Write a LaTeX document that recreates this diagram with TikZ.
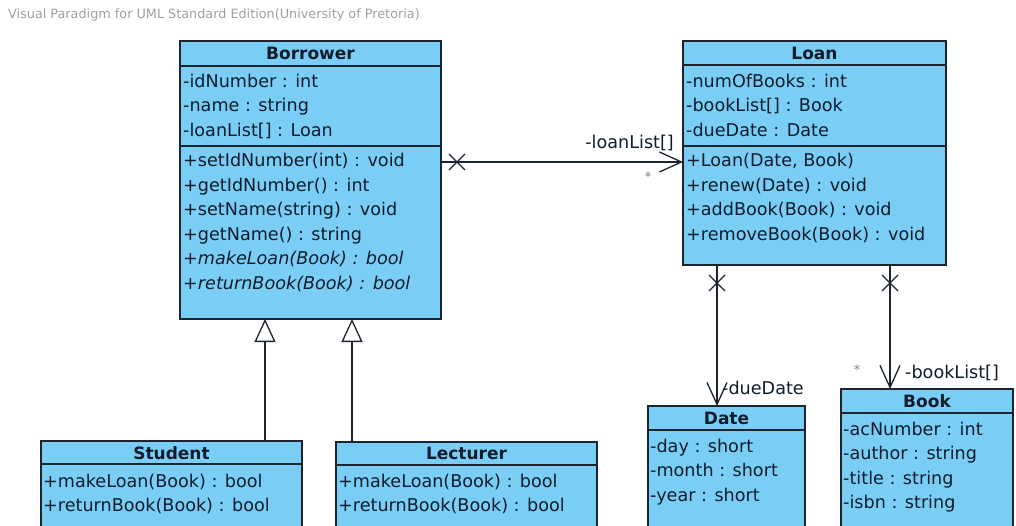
\documentclass[tikz,border=0pt]{standalone}
\usepackage{fontspec}
\setmainfont{DejaVu Sans}
\usetikzlibrary{arrows.meta}
\definecolor{vpfill}{RGB}{122,206,245}
\definecolor{vpline}{RGB}{28,36,48}
\definecolor{vptext}{RGB}{14,28,44}

\begin{document}
\begin{tikzpicture}[x=1pt,y=-1pt,
	classbox/.style={draw=vpline,fill=vpfill,line width=1.3pt,anchor=north west,inner sep=0pt,outer sep=0pt},
	classname/.style={anchor=base,inner sep=0pt,text=vptext,font=\fontsize{17}{20}\selectfont\bfseries},
	member/.style={anchor=base west,inner sep=0pt,text=vptext,font=\fontsize{17.6}{20}\selectfont},
	abstract/.style={member,font=\fontsize{17.6}{20}\selectfont\itshape},
	rolelabel/.style={inner sep=0pt,text=vptext,font=\fontsize{17.6}{20}\selectfont},
	mult/.style={inner sep=0pt,text=gray,font=\fontsize{13}{15}\selectfont},
	sepline/.style={draw=vpline,line width=1.3pt},
	assoc/.style={draw=vpline,line width=1.3pt},
	navarrow/.style={assoc,-{Straight Barb[length=22pt,width=20pt]}},
	inherit/.style={assoc,-{Triangle[open,length=23pt,width=21pt]}}]
\clip (0,0) rectangle (1016,525);

\node[anchor=base west,inner sep=0pt,text=gray!75,font=\fontsize{12.8}{15}\selectfont] (vpnote) at (8,18) {Visual Paradigm for UML Standard Edition(University of Pretoria)};

\node[classbox,minimum width=261pt,minimum height=278pt] (borrower) at (180,41) {};
\node[classbox,minimum width=263pt,minimum height=224pt] (loan) at (683,41) {};
\node[classbox,minimum width=157pt,minimum height=129pt] (date) at (648,406) {};
\node[classbox,minimum width=172pt,minimum height=146pt] (book) at (841,389) {};
\node[classbox,minimum width=261pt,minimum height=94pt] (student) at (41,441) {};
\node[classbox,minimum width=261pt,minimum height=93pt] (lecturer) at (336,442) {};

\draw[sepline] (borrower.west |- 0,66) -- (borrower.east |- 0,66);
\draw[sepline] (borrower.west |- 0,146) -- (borrower.east |- 0,146);
\draw[sepline] (loan.west |- 0,65) -- (loan.east |- 0,65);
\draw[sepline] (loan.west |- 0,146) -- (loan.east |- 0,146);
\draw[sepline] (date.west |- 0,430) -- (date.east |- 0,430);
\draw[sepline] (book.west |- 0,413) -- (book.east |- 0,413);
\draw[sepline] (student.west |- 0,464) -- (student.east |- 0,464);
\draw[sepline] (lecturer.west |- 0,465) -- (lecturer.east |- 0,465);

\node[classname] (borrowername) at (310.5,59.5) {Borrower};
\node[member] (b1) at (183,87) {-idNumber : int};
\node[member] (b2) at (183,111.5) {-name : string};
\node[member] (b3) at (183,136) {-loanList[] : Loan};
\node[member] (b4) at (183,166.5) {+setIdNumber(int) : void};
\node[member] (b5) at (183,191) {+getIdNumber() : int};
\node[member] (b6) at (183,215.5) {+setName(string) : void};
\node[member] (b7) at (183,240) {+getName() : string};
\node[abstract] (b8) at (183,264.5) {+makeLoan(Book) : bool};
\node[abstract] (b9) at (183,289) {+returnBook(Book) : bool};

\node[classname] (loanname) at (814.5,59.5) {Loan};
\node[member] (l1) at (686,87) {-numOfBooks : int};
\node[member] (l2) at (686,111.5) {-bookList[] : Book};
\node[member] (l3) at (686,136) {-dueDate : Date};
\node[member] (l4) at (686,166.5) {+Loan(Date, Book)};
\node[member] (l5) at (686,191) {+renew(Date) : void};
\node[member] (l6) at (686,215.5) {+addBook(Book) : void};
\node[member] (l7) at (686,240) {+removeBook(Book) : void};

\node[classname] (datename) at (726.5,424) {Date};
\node[member] (d1) at (650,452) {-day : short};
\node[member] (d2) at (650,476.5) {-month : short};
\node[member] (d3) at (650,501) {-year : short};

\node[classname] (bookname) at (927,407) {Book};
\node[member] (k1) at (843,435) {-acNumber : int};
\node[member] (k2) at (843,459.5) {-author : string};
\node[member] (k3) at (843,484) {-title : string};
\node[member] (k4) at (843,508.5) {-isbn : string};

\node[classname] (studentname) at (171.5,459) {Student};
\node[member] (s1) at (43,487) {+makeLoan(Book) : bool};
\node[member] (s2) at (43,511) {+returnBook(Book) : bool};

\node[classname] (lecturername) at (466.5,459) {Lecturer};
\node[member] (c1) at (338,487) {+makeLoan(Book) : bool};
\node[member] (c2) at (338,511) {+returnBook(Book) : bool};

\draw[navarrow] (borrower.north east) ++(0,121) coordinate (borrowerend) -- (borrowerend -| loan.west);
\draw[assoc] (borrowerend) ++(16,0) +(-8,-8) -- +(8,8) +(-8,8) -- +(8,-8);
\node[rolelabel,anchor=base east] (loanrole) at (674,148) {-loanList[]};
\node[mult] (loanmult) at (648,177) {*};

\draw[navarrow] (loan.south west) ++(34,0) coordinate (datestart) -- (datestart |- date.north);
\draw[assoc] (datestart) ++(0,18) +(-8,-8) -- +(8,8) +(-8,8) -- +(8,-8);
\node[rolelabel,anchor=base west] (daterole) at (722,394) {-dueDate};

\draw[navarrow] (loan.south west) ++(207,0) coordinate (bookstart) -- (bookstart |- book.north);
\draw[assoc] (bookstart) ++(0,18) +(-8,-8) -- +(8,8) +(-8,8) -- +(8,-8);
\node[rolelabel,anchor=base west] (bookrole) at (905,378) {-bookList[]};
\node[mult] (bookmult) at (857,370) {*};

\draw[inherit] (student.north west) ++(224,0) coordinate (studentup) -- (studentup |- borrower.south);
\draw[inherit] (lecturer.north west) ++(16,0) coordinate (lecturerup) -- (lecturerup |- borrower.south);
\end{tikzpicture}
\end{document}
